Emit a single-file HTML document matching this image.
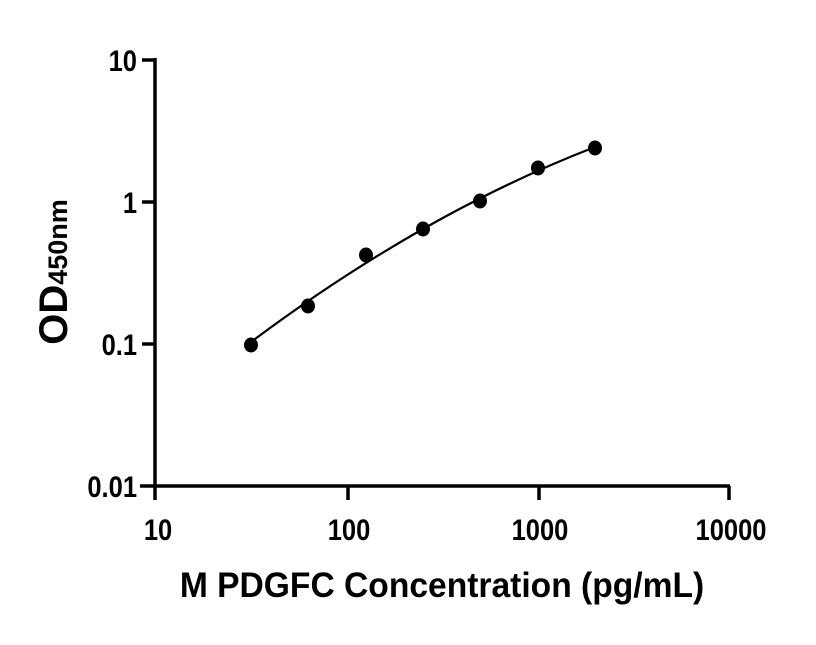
<!DOCTYPE html>
<html><head><meta charset="utf-8"><style>
body{margin:0;background:#fff;width:816px;height:640px;overflow:hidden}
svg text{font-family:"Liberation Sans",sans-serif;font-weight:bold;fill:#000}
</style></head><body>
<svg width="816" height="640" viewBox="0 0 816 640">
<g stroke="#000" stroke-width="3.5" fill="none">
<line x1="155" y1="58" x2="155" y2="500"/>
<line x1="140" y1="486" x2="730" y2="486"/>
<line x1="142" y1="60" x2="155" y2="60"/>
<line x1="142" y1="202" x2="155" y2="202"/>
<line x1="142" y1="344" x2="155" y2="344"/>
<line x1="348" y1="486" x2="348" y2="500"/>
<line x1="539" y1="486" x2="539" y2="500"/>
<line x1="729" y1="486" x2="729" y2="500"/>
</g>
<g font-size="30" text-anchor="end">
<text x="137" y="71" transform="translate(137 0) scale(0.85 1) translate(-137 0)">10</text>
<text x="137" y="213" transform="translate(137 0) scale(0.85 1) translate(-137 0)">1</text>
<text x="137" y="355" transform="translate(137 0) scale(0.85 1) translate(-137 0)">0.1</text>
<text x="137" y="497" transform="translate(137 0) scale(0.85 1) translate(-137 0)">0.01</text>
</g>
<g font-size="30" text-anchor="middle">
<text x="158" y="540" transform="translate(158 0) scale(0.85 1) translate(-158 0)">10</text>
<text x="349" y="540" transform="translate(349 0) scale(0.85 1) translate(-349 0)">100</text>
<text x="540" y="540" transform="translate(540 0) scale(0.85 1) translate(-540 0)">1000</text>
<text x="731" y="540" transform="translate(731 0) scale(0.85 1) translate(-731 0)">10000</text>
</g>
<text x="442" y="597" font-size="35" text-anchor="middle" transform="translate(442 0) scale(0.96 1) translate(-442 0)">M PDGFC Concentration (pg/mL)</text>
<text transform="translate(67 272) rotate(-90)" text-anchor="middle" font-size="40">OD<tspan font-size="27">450nm</tspan></text>
<path d="M251,342 Q423,213.5 595,147" stroke="#000" stroke-width="2.2" fill="none"/>
<g fill="#000">
<ellipse cx="251" cy="345" rx="7" ry="7.5"/>
<ellipse cx="308" cy="306" rx="7" ry="7.5"/>
<ellipse cx="366" cy="255" rx="7" ry="7.5"/>
<ellipse cx="423" cy="229" rx="7" ry="7.5"/>
<ellipse cx="480" cy="201" rx="7" ry="7.5"/>
<ellipse cx="538" cy="168" rx="7" ry="7.5"/>
<ellipse cx="595" cy="148" rx="7" ry="7.5"/>
</g>
</svg>
</body></html>
